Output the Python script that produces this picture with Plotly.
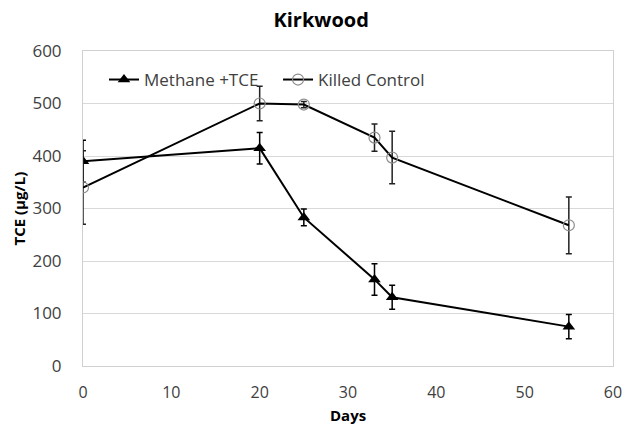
import plotly.graph_objects as go

# Sampling days and TCE concentrations (µg/L) with standard deviations
days = [0, 20, 25, 33, 35, 55]
methane_tce = [390, 415, 283, 165, 131, 75]
methane_err = [40, 30, 16, 30, 23, 23]
killed_ctrl = [340, 500, 498, 435, 397, 268]
killed_err = [70, 33, 6, 26, 50, 54]

x_ticks = [0, 10, 20, 30, 40, 50, 60]
y_ticks = [0, 100, 200, 300, 400, 500, 600]

FONT = "Open Sans"
TEXT = "#404040"
W, H = 626, 425
M = dict(l=83, r=13, t=51, b=59)

fig = go.Figure()

fig.add_trace(go.Scatter(
    x=days, y=methane_tce, name="Methane +TCE", mode="lines+markers",
    line=dict(color="black", width=2),
    marker=dict(symbol="triangle-up", size=11, color="black"),
    error_y=dict(type="data", array=methane_err, visible=True,
                 color="black", thickness=1.5, width=3),
    legend="legend",
))

fig.add_trace(go.Scatter(
    x=days, y=killed_ctrl, name="Killed Control", mode="lines+markers",
    line=dict(color="black", width=2),
    marker=dict(symbol="circle-open", size=11, color="#8c8c8c",
                line=dict(width=1.2, color="#8c8c8c")),
    error_y=dict(type="data", array=killed_err, visible=True,
                 color="#222222", thickness=1.5, width=3),
    legend="legend2",
))

legend_common = dict(orientation="h", y=0.908, xanchor="left", yanchor="middle",
                     bgcolor="rgba(0,0,0,0)", borderwidth=0,
                     font=dict(family=FONT, size=17, color=TEXT))

# Axis titles placed as paper annotations so the plot area stays fixed
plot_w = W - M["l"] - M["r"]
plot_h = H - M["t"] - M["b"]
axis_titles = [
    dict(text="<b>Days</b>", x=0.5, y=-(415 - (H - M["b"])) / plot_h,
         xref="paper", yref="paper", xanchor="center", yanchor="middle",
         showarrow=False, font=dict(family=FONT, size=15, color="black")),
    dict(text="<b>TCE (µg/L)</b>", x=-(M["l"] - 18) / plot_w, y=0.5,
         xref="paper", yref="paper", xanchor="center", yanchor="middle",
         textangle=-90, showarrow=False,
         font=dict(family=FONT, size=15, color="black")),
]

fig.update_layout(
    width=W, height=H,
    margin=M,
    paper_bgcolor="white", plot_bgcolor="white",
    font=dict(family=FONT, size=17, color=TEXT),
    title=dict(text="<b>Kirkwood</b>", x=0.513, xanchor="center",
               y=0.953, yanchor="middle",
               font=dict(family=FONT, size=20, color="black")),
    legend=dict(x=0.0396, **legend_common),
    legend2=dict(x=0.368, **legend_common),
    showlegend=True,
    annotations=axis_titles,
)

fig.update_xaxes(
    range=[0, 60], tickvals=x_ticks, ticktext=[str(v) for v in x_ticks],
    showgrid=False, showline=True, linecolor="#d0d0d0", linewidth=1,
    mirror=True, ticks="", zeroline=False, ticklabelstandoff=12,
    automargin=False,
    tickfont=dict(family=FONT, size=16, color=TEXT),
)

fig.update_yaxes(
    range=[0, 600], tickvals=y_ticks, ticktext=[str(v) for v in y_ticks],
    showgrid=True, gridcolor="#d9d9d9", gridwidth=1,
    showline=True, linecolor="#d0d0d0", linewidth=1, mirror=True,
    ticks="", zeroline=False, ticklabelstandoff=17,
    automargin=False,
    tickfont=dict(family=FONT, size=17, color=TEXT),
)

fig.write_html("out.html")
